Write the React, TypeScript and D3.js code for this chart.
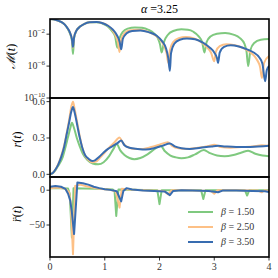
import React from 'react';
import { scaleLinear, scaleLog, line, curveMonotoneX, curveLinear } from 'd3';

const width = 278;
const height = 278;
const margin = { left: 50, right: 9, top: 19, bottom: 21 };
const innerWidth = width - margin.left - margin.right;
const panelH = [79, 79, 80];

const betas = ['1.50', '2.50', '3.50'];
const colors = ['#7fc97f', '#fdc086', '#386cb0'];

// log10 M(t) : [t, exponent]
const logM15 = [[0,-0.1],[0.1,-0.2],[0.2,-0.45],[0.27,-0.8],[0.33,-1.4],[0.37,-2.0],[0.4,-2.8],[0.42,-4.5],[0.44,-2.5],[0.48,-1.6],[0.55,-1.05],[0.63,-0.7],[0.72,-0.52],[0.85,-0.5],[0.95,-0.65],[1.05,-1.0],[1.13,-1.6],[1.19,-2.3],[1.23,-3.7],[1.27,-2.5],[1.33,-1.7],[1.42,-1.3],[1.55,-1.15],[1.68,-1.2],[1.8,-1.45],[1.9,-1.9],[1.97,-2.5],[2.01,-3.3],[2.04,-4.3],[2.08,-3.0],[2.15,-2.1],[2.25,-1.6],[2.4,-1.4],[2.52,-1.45],[2.62,-1.7],[2.72,-2.3],[2.78,-3.0],[2.82,-4.3],[2.86,-3.0],[2.93,-2.3],[3.05,-1.95],[3.2,-1.85],[3.35,-2.05],[3.47,-2.5],[3.55,-3.2],[3.59,-4.2],[3.62,-6.0],[3.66,-4.0],[3.73,-3.1],[3.85,-2.7],[4.0,-2.6]];
const logM25 = [[0,-0.1],[0.1,-0.2],[0.2,-0.45],[0.27,-0.8],[0.33,-1.35],[0.37,-1.9],[0.4,-2.6],[0.42,-3.7],[0.44,-2.4],[0.48,-1.6],[0.55,-1.05],[0.63,-0.7],[0.72,-0.52],[0.85,-0.48],[0.95,-0.6],[1.06,-0.95],[1.14,-1.5],[1.2,-2.2],[1.24,-3.0],[1.27,-4.25],[1.3,-2.7],[1.36,-1.9],[1.45,-1.55],[1.6,-1.45],[1.75,-1.6],[1.9,-2.05],[2.0,-2.6],[2.08,-3.4],[2.13,-4.4],[2.16,-5.6],[2.19,-4.0],[2.25,-3.0],[2.35,-2.5],[2.48,-2.35],[2.62,-2.5],[2.75,-2.95],[2.86,-3.6],[2.94,-4.3],[3.0,-5.4],[3.03,-4.2],[3.1,-3.5],[3.22,-3.25],[3.38,-3.4],[3.55,-3.8],[3.68,-4.4],[3.78,-5.2],[3.84,-6.2],[3.87,-7.5],[3.91,-5.6],[4.0,-4.75]];
const logM35 = [[0,-0.1],[0.1,-0.2],[0.2,-0.45],[0.27,-0.8],[0.33,-1.35],[0.37,-1.9],[0.4,-2.6],[0.42,-3.6],[0.44,-2.4],[0.48,-1.6],[0.55,-1.05],[0.63,-0.7],[0.72,-0.52],[0.85,-0.48],[0.95,-0.6],[1.06,-0.95],[1.15,-1.45],[1.22,-2.1],[1.27,-2.9],[1.3,-3.9],[1.33,-2.6],[1.4,-1.9],[1.5,-1.6],[1.65,-1.55],[1.8,-1.75],[1.95,-2.2],[2.05,-2.9],[2.12,-3.8],[2.16,-5.0],[2.19,-6.6],[2.21,-4.4],[2.27,-3.2],[2.37,-2.7],[2.5,-2.55],[2.65,-2.65],[2.8,-3.1],[2.92,-3.7],[3.0,-4.3],[3.05,-5.0],[3.07,-5.6],[3.1,-4.3],[3.18,-3.6],[3.3,-3.4],[3.45,-3.55],[3.6,-3.9],[3.72,-4.3],[3.82,-4.9],[3.88,-5.7],[3.93,-7.9],[3.96,-6.5],[4.0,-6.0]];

// r(t)
const r15 = [[0,0],[0.05,0.01],[0.1,0.035],[0.15,0.07],[0.23,0.14],[0.28,0.22],[0.33,0.31],[0.37,0.38],[0.4,0.425],[0.44,0.38],[0.49,0.3],[0.54,0.235],[0.6,0.17],[0.68,0.12],[0.78,0.09],[0.88,0.083],[0.98,0.1],[1.08,0.15],[1.16,0.21],[1.22,0.25],[1.28,0.2],[1.36,0.16],[1.45,0.135],[1.54,0.125],[1.65,0.135],[1.78,0.165],[1.9,0.205],[2.02,0.235],[2.1,0.19],[2.2,0.155],[2.3,0.14],[2.4,0.133],[2.52,0.14],[2.65,0.165],[2.81,0.2],[2.92,0.175],[3.05,0.155],[3.19,0.15],[3.35,0.16],[3.5,0.18],[3.62,0.195],[3.75,0.17],[3.88,0.155],[4.0,0.15]];
const r25 = [[0,0],[0.05,0.01],[0.1,0.04],[0.15,0.085],[0.21,0.16],[0.26,0.24],[0.3,0.33],[0.35,0.45],[0.39,0.56],[0.42,0.6],[0.45,0.54],[0.5,0.42],[0.54,0.32],[0.59,0.22],[0.64,0.155],[0.7,0.12],[0.77,0.1],[0.84,0.105],[0.92,0.14],[1.0,0.18],[1.08,0.22],[1.17,0.26],[1.27,0.305],[1.33,0.26],[1.42,0.225],[1.55,0.21],[1.7,0.21],[1.85,0.225],[2.0,0.245],[2.15,0.265],[2.23,0.235],[2.35,0.215],[2.5,0.21],[2.7,0.22],[2.9,0.235],[3.0,0.245],[3.12,0.225],[3.3,0.22],[3.5,0.225],[3.7,0.23],[3.87,0.24],[4.0,0.235]];
const r35 = [[0,0],[0.05,0.01],[0.1,0.04],[0.15,0.08],[0.21,0.15],[0.26,0.23],[0.3,0.32],[0.35,0.43],[0.39,0.52],[0.42,0.555],[0.45,0.51],[0.5,0.4],[0.54,0.31],[0.59,0.22],[0.64,0.16],[0.7,0.13],[0.77,0.11],[0.82,0.115],[0.9,0.145],[0.98,0.18],[1.06,0.21],[1.15,0.235],[1.24,0.26],[1.3,0.28],[1.36,0.24],[1.45,0.22],[1.6,0.21],[1.75,0.205],[1.9,0.215],[2.05,0.235],[2.19,0.255],[2.28,0.23],[2.4,0.215],[2.55,0.21],[2.75,0.22],[2.95,0.23],[3.07,0.235],[3.2,0.23],[3.4,0.225],[3.6,0.225],[3.8,0.23],[4.0,0.235]];

// second derivative of r(t)
const rdd15 = [[0,3],[0.2,3],[0.33,2.5],[0.36,-5],[0.4,-68],[0.43,3],[0.6,2.5],[0.9,2],[1.15,1],[1.18,-2],[1.21,-37],[1.25,1],[1.5,0.5],[1.96,0],[2.0,-20],[2.04,0],[2.4,0],[2.76,0],[2.8,-12.5],[2.84,0],[3.2,0],[3.56,0],[3.6,-7.6],[3.64,0],[4.0,0]];
const rdd25 = [[0,3],[0.15,4],[0.28,2],[0.35,-3],[0.38,-20],[0.42,-92],[0.46,6],[0.55,8],[0.7,5],[0.9,2],[1.1,0.5],[1.2,-2],[1.27,-25],[1.31,2],[1.45,1],[1.7,0],[2.08,-1],[2.16,-6],[2.22,0],[2.5,0],[2.94,-1],[3.0,-5],[3.06,0],[3.4,0],[3.8,-0.5],[3.87,-3],[3.92,0],[4.0,-1]];
const rdd35 = [[0,5],[0.1,6],[0.2,5],[0.28,2],[0.33,-5],[0.37,-15],[0.4,-32],[0.44,-63],[0.5,11],[0.6,10],[0.7,8],[0.8,5],[0.9,3],[1.0,1.5],[1.1,0.5],[1.22,-1.5],[1.3,-16],[1.34,-1],[1.4,3],[1.5,1],[1.7,-0.5],[1.9,-1],[2.1,-2],[2.19,-7],[2.25,-1],[2.4,0],[2.6,-0.5],[2.9,-1],[3.07,-3],[3.15,-0.5],[3.4,-0.5],[3.7,-1],[3.93,-1.5],[4.0,-2.5]];

const xTicks = [0, 1, 2, 3, 4];
const mTicks = [-2, -6, -10];
const rTicks = [0, 0.3, 0.6];
const rddTicks = [0, -50];

const font = 'Liberation Serif, DejaVu Serif, serif';

function App() {
  const x = scaleLinear().domain([0, 4]).range([0, innerWidth]);
  const top1 = margin.top;
  const top2 = top1 + panelH[0];
  const top3 = top2 + panelH[1];
  const bottom = top3 + panelH[2];

  const yM = scaleLog().domain([1e-10, Math.pow(10, -0.1)]).range([panelH[0], 0]);
  const yR = scaleLinear().domain([-0.022, 0.63]).range([panelH[1], 0]);
  const yD = scaleLinear().domain([-96, 19]).range([panelH[2], 0]);

  const lineM = line<number[]>().x(d => x(d[0])).y(d => yM(Math.pow(10, d[1]))).curve(curveMonotoneX);
  const lineR = line<number[]>().x(d => x(d[0])).y(d => yR(d[1])).curve(curveMonotoneX);
  const lineD = line<number[]>().x(d => x(d[0])).y(d => yD(d[1])).curve(curveLinear);

  const mSeries = [logM15, logM25, logM35];
  const rSeries = [r15, r25, r35];
  const dSeries = [rdd15, rdd25, rdd35];

  const panel = (
    id: string, top: number, h: number, series: number[][][],
    gen: (d: number[][]) => string | null,
    ticks: React.ReactNode
  ) => (
    <g transform={`translate(${margin.left},${top})`}>
      <clipPath id={id}><rect x={0} y={0} width={innerWidth} height={h} /></clipPath>
      <g clipPath={`url(#${id})`}>
        {series.map((s, i) => (
          <path key={i} d={gen(s) || ''} fill="none" stroke={colors[i]} strokeWidth={2} strokeLinejoin="round" />
        ))}
      </g>
      {ticks}
      <rect x={0} y={0} width={innerWidth} height={h} fill="none" stroke="#000" strokeWidth={1.6} />
    </g>
  );

  const tickText = { fontFamily: font, fontSize: 10, fill: '#333' } as const;

  return (
    <svg width={width} height={height} style={{ position: 'absolute', left: 0, top: 0, background: '#fff' }}>
      <text x={margin.left + innerWidth / 2} y={13} textAnchor="middle" fontFamily={font} fontSize={12}>
        <tspan fontStyle="italic">α</tspan> =3.25
      </text>

      {panel('c1', top1, panelH[0], mSeries, lineM, mTicks.map(t => (
        <g key={t} transform={`translate(0,${yM(Math.pow(10, t))})`}>
          <line x1={-3.5} x2={0} stroke="#000" strokeWidth={0.8} />
          <text x={-5} dy="0.32em" textAnchor="end" {...tickText}>
            10<tspan fontSize={7} dy={-4}>{`−${Math.abs(t)}`}</tspan>
          </text>
        </g>
      )))}

      {panel('c2', top2, panelH[1], rSeries, lineR, rTicks.map(t => (
        <g key={t} transform={`translate(0,${yR(t)})`}>
          <line x1={-3.5} x2={0} stroke="#000" strokeWidth={0.8} />
          <text x={-5} dy="0.32em" textAnchor="end" {...tickText}>{t.toFixed(1)}</text>
        </g>
      )))}

      {panel('c3', top3, panelH[2], dSeries, lineD, rddTicks.map(t => (
        <g key={t} transform={`translate(0,${yD(t)})`}>
          <line x1={-3.5} x2={0} stroke="#000" strokeWidth={0.8} />
          <text x={-5} dy="0.32em" textAnchor="end" {...tickText}>{t < 0 ? `−${Math.abs(t)}` : t}</text>
        </g>
      )))}

      {xTicks.map(t => (
        <g key={t} transform={`translate(${margin.left + x(t)},${bottom})`}>
          <line y1={0} y2={3.5} stroke="#000" strokeWidth={0.8} />
          <text y={13} textAnchor="middle" {...tickText}>{t}</text>
        </g>
      ))}

      <text transform={`translate(15,${top1 + panelH[0] / 2 - 2}) rotate(-90)`} textAnchor="middle" fontFamily={font} fontSize={12}>
        <tspan fontStyle="italic">ℳ</tspan>(<tspan fontStyle="italic">t</tspan>)
      </text>
      <text transform={`translate(21,${top2 + panelH[1] / 2 + 2}) rotate(-90)`} textAnchor="middle" fontFamily={font} fontSize={12}>
        <tspan fontStyle="italic">r</tspan>(<tspan fontStyle="italic">t</tspan>)
      </text>
      <text transform={`translate(21,${top3 + panelH[2] / 2 - 3}) rotate(-90)`} textAnchor="middle" fontFamily={font} fontSize={12}>
        <tspan fontStyle="italic">r̈</tspan>(<tspan fontStyle="italic">t</tspan>)
      </text>

      <g transform={`translate(188,212)`}>
        {betas.map((b, i) => (
          <g key={b} transform={`translate(0,${i * 15})`}>
            <line x1={0} x2={25} stroke={colors[i]} strokeWidth={2} />
            <text x={33} dy="0.32em" fontFamily={font} fontSize={10} fill="#333">
              <tspan fontStyle="italic">β</tspan> = {b}
            </text>
          </g>
        ))}
      </g>
    </svg>
  );
}

export default App;
